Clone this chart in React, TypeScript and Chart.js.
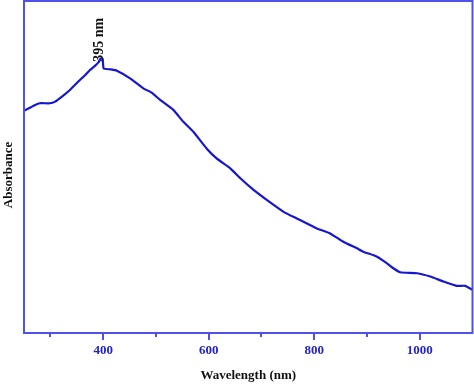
import React, { useEffect, useRef } from "react";
import { Chart, registerables } from "chart.js";

Chart.register(...registerables);

const wavelengths = [250, 263, 271, 280, 299, 309, 322, 337, 356, 366, 375, 384, 391, 395, 399, 401, 414, 426, 451, 476, 492, 508, 533, 552, 571, 596, 615, 641, 660, 685, 710, 742, 767, 805, 830, 855, 881, 893, 919, 938, 950, 963, 995, 1020, 1045, 1070, 1086, 1100];
const absorbance = [0.669, 0.680, 0.687, 0.692, 0.692, 0.697, 0.712, 0.732, 0.762, 0.777, 0.792, 0.804, 0.815, 0.826, 0.826, 0.797, 0.794, 0.790, 0.767, 0.737, 0.724, 0.702, 0.672, 0.636, 0.606, 0.556, 0.526, 0.496, 0.466, 0.431, 0.401, 0.365, 0.345, 0.315, 0.300, 0.275, 0.255, 0.245, 0.230, 0.210, 0.195, 0.183, 0.180, 0.170, 0.155, 0.142, 0.142, 0.130];
const majorTicks = [400, 600, 800, 1000];
const minorTicks = [300, 500, 700, 900];
const peakLabel = "395 nm";
const peakWavelength = 395;
const peakAbsorbance = 0.826;
const xTitle = "Wavelength (nm)";
const yTitle = "Absorbance";

const FRAME = "#5050ea";
const LINE = "#1616d2";
const LABEL = "#2222cc";
const FONT = "'Liberation Serif', 'DejaVu Serif', serif";

export default function App() {
  const ref = useRef<HTMLCanvasElement | null>(null);

  useEffect(() => {
    document.body.style.margin = "0";
    const canvas = ref.current;
    if (!canvas) return;

    const decor = {
      id: "decor",
      afterDatasetsDraw(chart: any) {
        const { ctx, chartArea } = chart;
        const xs = chart.scales.x;
        const ys = chart.scales.y;
        ctx.save();
        ctx.strokeStyle = FRAME;
        ctx.lineWidth = 2;
        ctx.strokeRect(chartArea.left, chartArea.top, chartArea.right - chartArea.left, chartArea.bottom - chartArea.top);
        ctx.beginPath();
        majorTicks.forEach((v) => {
          const px = Math.round(xs.getPixelForValue(v));
          ctx.moveTo(px, chartArea.bottom);
          ctx.lineTo(px, chartArea.bottom + 7);
        });
        minorTicks.forEach((v) => {
          const px = Math.round(xs.getPixelForValue(v));
          ctx.moveTo(px, chartArea.bottom);
          ctx.lineTo(px, chartArea.bottom + 4);
        });
        ctx.stroke();
        ctx.fillStyle = "#111";
        ctx.font = `bold 13px ${FONT}`;
        ctx.textAlign = "center";
        ctx.textBaseline = "middle";
        ctx.fillText(xTitle, (chartArea.left + chartArea.right) / 2, 376);
        ctx.save();
        ctx.translate(9, 175);
        ctx.rotate(-Math.PI / 2);
        ctx.fillText(yTitle, 0, 0);
        ctx.restore();
        const px = xs.getPixelForValue(peakWavelength);
        const py = ys.getPixelForValue(peakAbsorbance);
        ctx.save();
        ctx.font = `bold 14px ${FONT}`;
        ctx.translate(px - 1, py + 3);
        ctx.rotate(-Math.PI / 2);
        ctx.textAlign = "left";
        ctx.textBaseline = "middle";
        ctx.fillText(peakLabel, 0, 0);
        ctx.restore();
        ctx.restore();
      },
    };

    const chart = new Chart(canvas, {
      type: "line",
      data: {
        datasets: [
          {
            data: wavelengths.map((w, i) => ({ x: w, y: absorbance[i] })),
            borderColor: LINE,
            borderWidth: 2.2,
            pointRadius: 0,
            tension: 0.15,
            fill: false,
          },
        ],
      },
      options: {
        animation: false,
        responsive: true,
        maintainAspectRatio: false,
        layout: { padding: { left: 24, top: 1, right: 1.5, bottom: 0 } },
        plugins: { legend: { display: false }, tooltip: { enabled: false } },
        scales: {
          x: {
            type: "linear",
            min: 250,
            max: 1100,
            grid: { display: false, drawTicks: false },
            border: { display: false },
            afterBuildTicks: (scale: any) => {
              scale.ticks = majorTicks.map((v) => ({ value: v }));
            },
            afterFit: (scale: any) => {
              scale.height = 51;
            },
            ticks: {
              padding: 10,
              color: LABEL,
              maxRotation: 0,
              autoSkip: false,
              callback: (v: any) => String(v),
              font: { family: FONT, size: 13, weight: "bold" },
            },
          },
          y: {
            display: false,
            min: 0,
            max: 1,
          },
        },
      },
      plugins: [decor],
    });
    return () => chart.destroy();
  }, []);

  return (
    <div style={{ width: 474, height: 384, position: "relative" }}>
      <canvas ref={ref} />
    </div>
  );
}
